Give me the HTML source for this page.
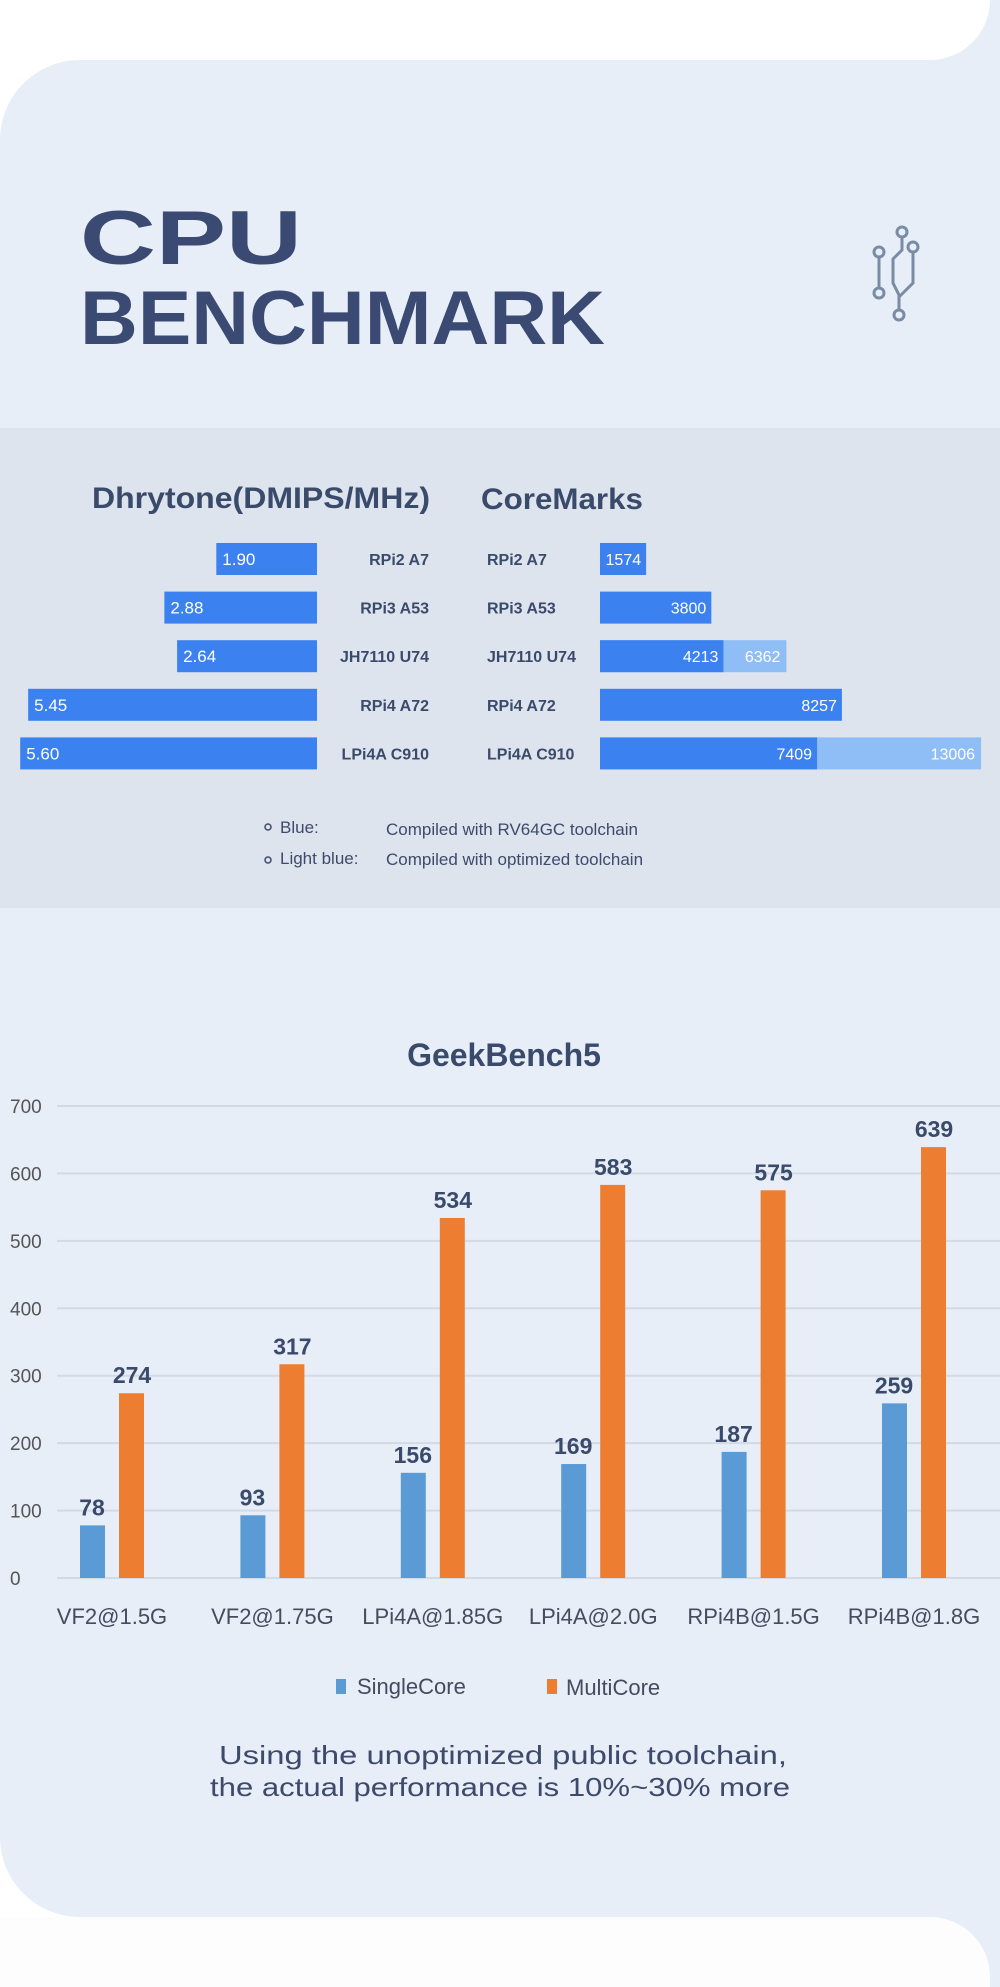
<!DOCTYPE html>
<html><head><meta charset="utf-8"><style>
html,body{margin:0;padding:0;background:#fff;}
body{width:1000px;height:1987px;position:relative;overflow:hidden;font-family:"Liberation Sans",sans-serif;}
.abs{position:absolute;}
</style></head><body>
<div class="abs" style="left:0;top:60px;width:1000px;height:1857px;background:#e7eef8;border-radius:80px 0 0 80px;"></div>
<div class="abs" style="left:900px;top:0;width:100px;height:1987px;background:#e7eef8;"></div>
<div class="abs" style="left:0;top:0;width:990px;height:60px;background:#fff;border-radius:0 0 60px 0;"></div>
<div class="abs" style="left:0;top:1917px;width:990px;height:70px;background:#fdfdfe;border-radius:0 60px 0 0;"></div>
<div class="abs" style="left:0;top:428px;width:1000px;height:480px;background:#dde4ee;"></div>

<svg class="abs" style="left:0;top:0" width="1000" height="1987" xmlns="http://www.w3.org/2000/svg" id="svg">
  <g fill="#3a4a72" font-family="Liberation Sans, sans-serif" font-weight="bold" font-size="76">
    <text x="80" y="264" textLength="222" lengthAdjust="spacingAndGlyphs">CPU</text>
    <text x="80" y="344" textLength="525" lengthAdjust="spacingAndGlyphs">BENCHMARK</text>
  </g>
  <g fill="none" stroke="#7a8ba6" stroke-width="3">
    <circle cx="879" cy="252" r="5"/><circle cx="879" cy="293" r="5"/>
    <circle cx="902" cy="232" r="5"/><circle cx="913" cy="247" r="5"/><circle cx="899" cy="315" r="5"/>
    <path d="M879 257V288M902 237V250L893 259V283L899 295V310M913 252V283L899 297"/>
  </g>
  <g id="hbars"></g>
  <g fill="#3d4a6b" font-size="17">
    <circle cx="268" cy="827" r="3" fill="none" stroke="#3d4a6b" stroke-width="1.5"/>
    <text x="280" y="833">Blue:</text>
    <text x="386" y="835">Compiled with RV64GC toolchain</text>
    <circle cx="268" cy="860" r="3" fill="none" stroke="#3d4a6b" stroke-width="1.5"/>
    <text x="280" y="864">Light blue:</text>
    <text x="386" y="865">Compiled with optimized toolchain</text>
  </g>
  <text x="504" y="1066" text-anchor="middle" font-size="32" font-weight="bold" fill="#3a4a6b">GeekBench5</text>
  <g id="gb"></g>
  <g font-size="22" fill="#444c5e">
    <rect x="336" y="1679" width="10" height="15" fill="#5b9bd5"/><text x="357" y="1694">SingleCore</text>
    <rect x="547" y="1679" width="10" height="15" fill="#ed7d31"/><text x="566" y="1695">MultiCore</text>
  </g>
  <g font-size="26" fill="#3d4a6b">
    <text x="219" y="1764" textLength="568" lengthAdjust="spacingAndGlyphs">Using the unoptimized public toolchain,</text>
    <text x="210" y="1796" textLength="580" lengthAdjust="spacingAndGlyphs">the actual performance is 10%~30% more</text>
  </g>
</svg>
<script>
const NS="http://www.w3.org/2000/svg";
const hbCats=["RPi2 A7","RPi3 A53","JH7110 U74","RPi4 A72","LPi4A C910"];
const dhry=[1.90,2.88,2.64,5.45,5.60];
const dhryLabels=["1.90","2.88","2.64","5.45","5.60"];
const core=[1574,3800,4213,8257,7409];
const coreOpt=[null,null,6362,null,13006];

const gbCats=["VF2@1.5G","VF2@1.75G","LPi4A@1.85G","LPi4A@2.0G","RPi4B@1.5G","RPi4B@1.8G"];
const gbSingle=[78,93,156,169,187,259];
const gbMulti=[274,317,534,583,575,639];
const gbTicks=[0,100,200,300,400,500,600,700];

function mk(tag,attrs,parent,txt){const e=document.createElementNS(NS,tag);for(const k in attrs)e.setAttribute(k,attrs[k]);if(txt!==undefined)e.textContent=txt;parent.appendChild(e);return e;}

// horizontal bars
const hb=document.getElementById('hbars');
const rowY=i=>543+i*48.6, barH=32;
const dX=v=>v*53, cX=v=>v*0.0293;
const t1=mk('text',{x:92,y:508,'font-size':30,'font-weight':'bold',fill:'#3a4a6b',textLength:338,lengthAdjust:'spacingAndGlyphs'},hb,'Dhrytone(DMIPS/MHz)');


const t2=mk('text',{x:481,y:509,'font-size':30,'font-weight':'bold',fill:'#3a4a6b',textLength:162,lengthAdjust:'spacingAndGlyphs'},hb,'CoreMarks');


hbCats.forEach((c,i)=>{
  const y=rowY(i), cy=y+barH/2+6;
  const w=dX(dhry[i]);
  const r=mk('rect',{x:317-w,y:y,width:w,height:barH,fill:'#3b82f0'},hb);
  
  
  mk('text',{x:317-w+6,y:cy,'font-size':17,fill:'#fff'},hb,dhryLabels[i]);
  const l=mk('text',{x:429,y:cy,'font-size':16,'font-weight':'bold',fill:'#3a4a6b','text-anchor':'end'},hb,c);
  
  
  const l2=mk('text',{x:487,y:cy,'font-size':16,'font-weight':'bold',fill:'#3a4a6b'},hb,c);
  
  
  if(coreOpt[i]!==null){
    const wo=cX(coreOpt[i]);
    const ro=mk('rect',{x:600,y:y,width:wo,height:barH,fill:'#8fbdf5'},hb);
    
    
    mk('text',{x:600+wo-6,y:cy,'font-size':16,fill:'#fff','text-anchor':'end'},hb,String(coreOpt[i]));
  }
  const wc=cX(core[i]);
  const rc=mk('rect',{x:600,y:y,width:wc,height:barH,fill:'#3b82f0'},hb);
  
  
  mk('text',{x:600+wc-5,y:cy,'font-size':16,fill:'#fff','text-anchor':'end'},hb,String(core[i]));
});

// GeekBench
const gb=document.getElementById('gb');
const yS=v=>1578-v*(472/700);
const gx=i=>112+i*160.4;
gbTicks.forEach(t=>{
  const g=mk('line',{x1:57,x2:1000,y1:yS(t),y2:yS(t),stroke:'#d4dae3','stroke-width':2},gb);
  
  
  const tl=mk('text',{x:10,y:yS(t)+7,'font-size':19,fill:'#555'},gb,String(t));
  
  
});
gbCats.forEach((c,i)=>{
  const cx=gx(i);
  const s=mk('rect',{x:cx-32,y:yS(gbSingle[i]),width:25,height:yS(0)-yS(gbSingle[i]),fill:'#5b9bd5'},gb);
  
  
  mk('text',{x:cx-20,y:yS(gbSingle[i])-10,'font-size':23,'font-weight':'bold',fill:'#3a4a6b','text-anchor':'middle'},gb,String(gbSingle[i]));
  const m=mk('rect',{x:cx+7,y:yS(gbMulti[i]),width:25,height:yS(0)-yS(gbMulti[i]),fill:'#ed7d31'},gb);
  
  
  mk('text',{x:cx+20,y:yS(gbMulti[i])-10,'font-size':23,'font-weight':'bold',fill:'#3a4a6b','text-anchor':'middle'},gb,String(gbMulti[i]));
  const xl=mk('text',{x:cx,y:1624,'font-size':22,fill:'#444c5e','text-anchor':'middle'},gb,c);
  
  
});
</script>
</body></html>
